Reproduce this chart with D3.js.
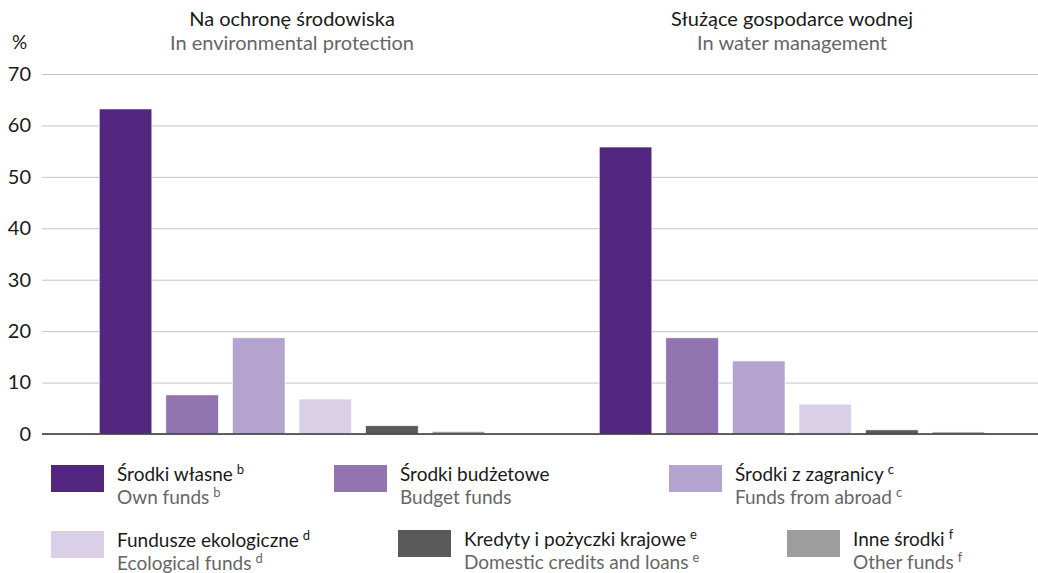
<!DOCTYPE html>
<html>
<head>
<meta charset="utf-8">
<script src="https://cdn.jsdelivr.net/npm/d3@7"></script>
<style>
  body { margin: 0; background: #fff; }
  svg text { font-family: Lato, "Open Sans", sans-serif; }
</style>
</head>
<body>
<div id="chart"></div>
<script>
// data
var groups = ["env", "water"];
var groupTitlesPl = ["Na ochronę środowiska", "Służące gospodarce wodnej"];
var groupTitlesEn = ["In environmental protection", "In water management"];
var series = ["own", "budget", "abroad", "eco", "credits", "other"];
var seriesPl = ["Środki własne", "Środki budżetowe", "Środki z zagranicy", "Fundusze ekologiczne", "Kredyty i pożyczki krajowe", "Inne środki"];
var seriesEn = ["Own funds", "Budget funds", "Funds from abroad", "Ecological funds", "Domestic credits and loans", "Other funds"];
var seriesNote = ["b", "", "c", "d", "e", "f"];
var envValues = [63.2, 7.6, 18.7, 6.8, 1.6, 0.5];
var waterValues = [55.8, 18.7, 14.2, 5.8, 0.8, 0.4];
var yTicks = [0, 10, 20, 30, 40, 50, 60, 70];
var colors = ["#52267f", "#9174b0", "#b4a2cf", "#d9d0e8", "#595959", "#9d9d9d"];

var W = 1038, H = 573;
var margin = { top: 74, right: 0, bottom: 139, left: 42 };
var width = W - margin.left - margin.right,
    height = H - margin.top - margin.bottom;
var fs = "19px";

var svg = d3.select("#chart").append("svg")
    .attr("width", W)
    .attr("height", H);

var g = svg.append("g")
    .attr("transform", "translate(" + margin.left + "," + margin.top + ")");

var x0 = d3.scaleBand().domain(groups).range([0, width + 4]);
var x1 = d3.scaleBand().domain(series).range([0, x0.bandwidth()])
    .paddingInner(0.21).paddingOuter(0.86);
var y = d3.scaleLinear().domain([0, 70]).range([height, 0]);
var color = d3.scaleOrdinal().domain(series).range(colors);

// gridlines
g.append("g")
    .attr("class", "grid")
    .call(d3.axisLeft(y).tickValues(yTicks).tickSize(-width).tickFormat(""))
    .call(function (s) {
        s.select(".domain").remove();
        s.selectAll("line").attr("stroke", "#c4c4c4").attr("stroke-width", 1);
    });

// y axis labels
g.append("g")
    .call(d3.axisLeft(y).tickValues(yTicks).tickSize(0).tickPadding(11))
    .call(function (s) {
        s.select(".domain").remove();
        s.selectAll("text")
            .attr("fill", "#1a1a1a")
            .style("font-size", "20px");
    });

var data = groups.map(function (grp, i) {
    var vals = i === 0 ? envValues : waterValues;
    return { group: grp, values: series.map(function (s, j) { return { key: s, value: vals[j] }; }) };
});

g.selectAll(".grp")
    .data(data)
    .enter().append("g")
    .attr("transform", function (d) { return "translate(" + x0(d.group) + ",0)"; })
    .selectAll("rect")
    .data(function (d) { return d.values; })
    .enter().append("rect")
    .attr("x", function (d) { return x1(d.key); })
    .attr("width", x1.bandwidth())
    .attr("y", function (d) { return y(d.value); })
    .attr("height", function (d) { return y(0) - y(d.value); })
    .attr("fill", function (d) { return color(d.key); })
    .attr("stroke", "#fff")
    .attr("stroke-width", 0.6);

// baseline
g.append("line")
    .attr("x1", 0).attr("x2", width)
    .attr("y1", y(0)).attr("y2", y(0))
    .attr("stroke", "#333")
    .attr("stroke-width", 1.5);

// group titles
groups.forEach(function (grp, i) {
    var cx = margin.left + x0(grp) + x0.bandwidth() / 2;
    svg.append("text")
        .attr("x", cx).attr("y", 26)
        .attr("text-anchor", "middle")
        .attr("fill", "#1a1a1a")
        .style("font-size", "20px")
        .text(groupTitlesPl[i]);
    svg.append("text")
        .attr("x", cx).attr("y", 50)
        .attr("text-anchor", "middle")
        .attr("fill", "#666")
        .style("font-size", "20px")
        .text(groupTitlesEn[i]);
});

svg.append("text")
    .attr("x", 12).attr("y", 49)
    .attr("fill", "#1a1a1a")
    .style("font-size", fs)
    .text("%");

// legend
var legendPos = [[51, 465], [334, 465], [669, 465], [51, 531], [398, 530], [787, 530]];
series.forEach(function (s, i) {
    var lg = svg.append("g")
        .attr("transform", "translate(" + legendPos[i][0] + "," + legendPos[i][1] + ")");
    lg.append("rect")
        .attr("width", 53).attr("height", 27)
        .attr("fill", color(s));
    var t1 = lg.append("text")
        .attr("x", 66).attr("y", 16)
        .attr("fill", "#1a1a1a")
        .style("font-size", fs)
        .text(seriesPl[i]);
    var t2 = lg.append("text")
        .attr("x", 66).attr("y", 39)
        .attr("fill", "#666")
        .style("font-size", fs)
        .text(seriesEn[i]);
    if (seriesNote[i]) {
        [t1, t2].forEach(function (t) {
            t.append("tspan")
                .attr("dx", 4).attr("dy", -7)
                .style("font-size", "13px")
                .text(seriesNote[i]);
        });
    }
});
</script>
</body>
</html>
